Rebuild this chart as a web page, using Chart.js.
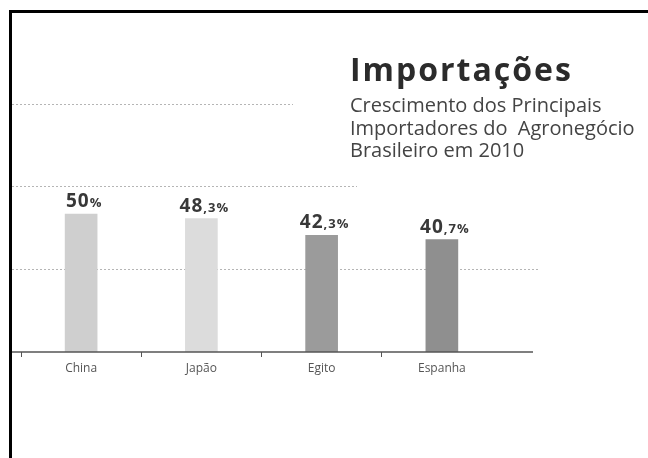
<!DOCTYPE html>
<html>
<head>
<meta charset="utf-8">
<script src="https://cdn.jsdelivr.net/npm/chart.js@4"></script>
<style>
    body { margin: 0; background: #fff; }
</style>
</head>
<body>
<canvas id="myChart" width="648" height="458"></canvas>
<script>
const paises = ["China", "Japão", "Egito", "Espanha"];
const crescimento = [50, 48.3, 42.3, 40.7];
const grade = [30, 60, 90];

const titulo = "Importações";
const subtitulo = ["Crescimento dos Principais", "Importadores do  Agronegócio", "Brasileiro em 2010"];

// linhas pontilhadas param antes do título
const fimGrade = { 30: 539, 60: 357, 90: 293 };

const decoracao = {
    id: "decoracao",
    beforeDraw(chart) {
        const ctx = chart.ctx;
        ctx.save();
        ctx.fillStyle = "#fff";
        ctx.fillRect(0, 0, chart.width, chart.height);

        // moldura
        ctx.fillStyle = "#000";
        ctx.fillRect(9, 10, chart.width - 9, 3);
        ctx.fillRect(9, 10, 3, chart.height - 10);

        // grade
        const y = chart.scales.y;
        ctx.strokeStyle = "#b5b5b5";
        ctx.lineWidth = 1;
        ctx.setLineDash([2, 2]);
        grade.forEach((v) => {
            const py = Math.round(y.getPixelForValue(v)) + 0.5;
            ctx.beginPath();
            ctx.moveTo(12, py);
            ctx.lineTo(fimGrade[v], py);
            ctx.stroke();
        });
        ctx.restore();
    },
    afterDatasetsDraw(chart) {
        const ctx = chart.ctx;
        ctx.save();

        // eixo
        const base = chart.scales.y.getPixelForValue(0);
        ctx.strokeStyle = "#555";
        ctx.lineWidth = 1.5;
        ctx.beginPath();
        ctx.moveTo(12, base);
        ctx.lineTo(533, base);
        ctx.stroke();

        // rótulos dos valores
        ctx.fillStyle = "#383838";
        ctx.textBaseline = "alphabetic";
        ctx.letterSpacing = "1px";
        chart.getDatasetMeta(0).data.forEach((bar, i) => {
            const partes = crescimento[i].toFixed(1).split(".");
            const grande = partes[0];
            const pequeno = (partes[1] === "0" ? "" : "," + partes[1]) + "%";
            ctx.font = "bold 19px 'Open Sans'";
            const wg = ctx.measureText(grande).width;
            ctx.font = "bold 13px 'Open Sans'";
            const wp = ctx.measureText(pequeno).width;
            const x0 = bar.x + 3 - (wg + wp) / 2;
            const y0 = bar.y - 7;
            ctx.font = "bold 19px 'Open Sans'";
            ctx.fillText(grande, x0, y0);
            ctx.font = "bold 13px 'Open Sans'";
            ctx.fillText(pequeno, x0 + wg, y0);
        });

        // título
        ctx.fillStyle = "#2b2b2b";
        ctx.letterSpacing = "2px";
        ctx.font = "bold 32px 'Open Sans'";
        ctx.fillText(titulo, 350, 81);
        ctx.letterSpacing = "0px";
        ctx.fillStyle = "#444";
        ctx.font = "20px 'Open Sans'";
        subtitulo.forEach((linha, i) => {
            ctx.fillText(linha, 350, 112 + i * 22.5);
        });
        ctx.restore();
    },
};

const myChart = new Chart(document.getElementById("myChart"), {
    type: "bar",
    data: {
        labels: paises,
        datasets: [
            {
                data: crescimento,
                backgroundColor: ["#cfcfcf", "#dcdcdc", "#9b9b9b", "#8f8f8f"],
                borderWidth: 0,
                barThickness: 32,
            },
        ],
    },
    options: {
        responsive: false,
        animation: false,
        layout: {
            padding: { top: 76, left: 21, right: 146, bottom: 0 },
        },
        plugins: {
            legend: { display: false },
            tooltip: { enabled: false },
        },
        scales: {
            x: {
                afterFit(scale) {
                    scale.height = 106;
                },
                border: { display: false },
                grid: {
                    offset: true,
                    drawOnChartArea: false,
                    drawTicks: true,
                    tickLength: 5,
                    // sem marca depois da última categoria
                    color: (c) => (c.type === "tick" ? "#555" : "rgba(0,0,0,0)"),
                },
                ticks: {
                    color: "#555",
                    padding: 4,
                    font: { family: "'Open Sans'", size: 12 },
                },
            },
            y: {
                display: false,
                min: 0,
                max: 100,
            },
        },
    },
    plugins: [decoracao],
});
</script>
</body>
</html>
